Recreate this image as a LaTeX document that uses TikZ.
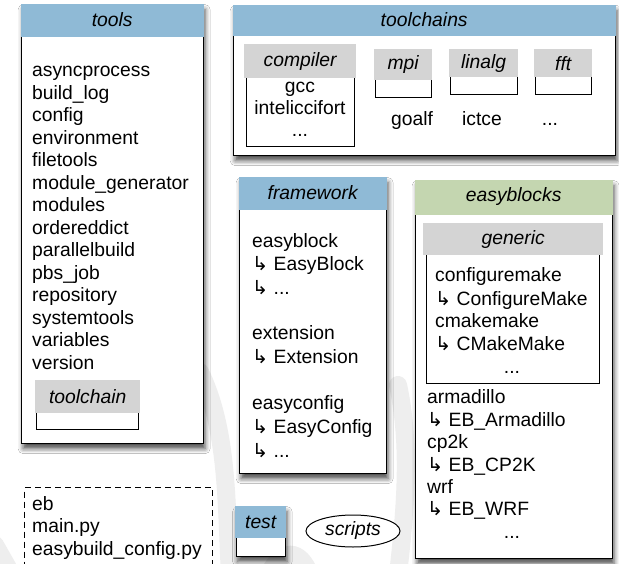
\documentclass[tikz,border=0pt]{standalone}
\usepackage{fontspec}
\setmainfont{Liberation Sans}
\newfontfamily\arrowfont{DejaVu Sans}
\usetikzlibrary{shadows.blur,shapes.geometric}
\definecolor{hblue}{RGB}{143,186,214}
\definecolor{hgreen}{RGB}{196,214,176}
\definecolor{hgray}{RGB}{212,212,212}
\definecolor{wmgray}{RGB}{238,238,238}
\newcommand{\hk}{{\arrowfont ↳}}
\newcommand{\mytxtfont}{\fontsize{19.3}{22.5}\selectfont}
\tikzset{
  outerbox/.style={draw=black, line width=1.3pt, fill=white, inner sep=0pt, anchor=north west},
  shbox/.style={outerbox, blur shadow={shadow xshift=1.5pt, shadow yshift=-5pt, shadow blur radius=5pt, shadow opacity=70}},
  innerbox/.style={draw=black, line width=1pt, fill=white, inner sep=0pt, anchor=north west},
  hdr/.style={inner sep=0pt, anchor=north west, font=\mytxtfont\itshape},
  txt/.style={inner sep=0pt, anchor=base west, font=\mytxtfont},
  ctxt/.style={inner sep=0pt, anchor=base, font=\mytxtfont},
  wm/.style={draw=wmgray, line width=18pt, line cap=round}
}
\begin{document}
\begin{tikzpicture}[x=1pt,y=-1pt]
\useasboundingbox (0,0) rectangle (619,563);
\fill[white] (0,0) rectangle (619,563);
% faint watermark strokes
\draw[wm] (200,372) .. controls (228,430) and (226,500) .. (230,575);
\draw[wm] (398,385) .. controls (412,450) and (404,520) .. (398,575);
\draw[wm] (268,575) .. controls (282,548) and (300,548) .. (310,575);
\draw[wm] (-5,545) -- (12,575);

% tools
\node[shbox, minimum width=182pt, minimum height=439pt] (tools) at (21,4) {};
\node[hdr, fill=hblue, minimum width=183.4pt, minimum height=33pt] (toolsH) at (20.3,3.3) {tools};
\foreach \t [count=\i] in {asyncprocess,build\_log,config,environment,filetools,module\_generator,modules,ordereddict,parallelbuild,pbs\_job,repository,systemtools,variables,version}
  \node[txt] (tl\i) at (32,{76.5+22.5*(\i-1)}) {\t};
\node[innerbox, minimum width=102pt, minimum height=49pt] (tcb) at (36,380) {};
\node[hdr, fill=hgray, minimum width=105pt, minimum height=33pt] (tcbH) at (35,380) {toolchain};

% dashed scripts box
\node[draw=black, line width=1.3pt, dash pattern=on 6pt off 4pt, inner sep=0pt, anchor=north west, minimum width=188pt, minimum height=90pt] (main) at (24,487) {};
\node[txt] (m1) at (32,510) {eb};
\node[txt] (m2) at (32,532) {main.py};
\node[txt] (m3) at (32,555) {easybuild\_config.py};

% toolchains
\node[shbox, minimum width=382pt, minimum height=150pt] (tchains) at (233,5) {};
\node[hdr, fill=hblue, minimum width=383.4pt, minimum height=31pt] (tchainsH) at (232.3,4.3) {toolchains};
\node[innerbox, minimum width=108pt, minimum height=102pt] (comp) at (246,44) {};
\node[hdr, fill=hgray, minimum width=112pt, minimum height=34pt] (compH) at (244,44) {compiler};
\node[ctxt] (c1) at (300,92) {gcc};
\node[ctxt] (c2) at (300,114) {inteliccifort};
\node[ctxt] (c3) at (300,136) {...};
\node[innerbox, minimum width=56pt, minimum height=48pt] (mpi) at (375,49) {};
\node[hdr, fill=hgray, minimum width=58pt, minimum height=31pt] (mpiH) at (374,49) {mpi};
\node[innerbox, minimum width=67pt, minimum height=45pt] (lin) at (450,49) {};
\node[hdr, fill=hgray, minimum width=69pt, minimum height=28pt] (linH) at (449,49) {linalg};
\node[innerbox, minimum width=56pt, minimum height=45pt] (fft) at (535,49) {};
\node[hdr, fill=hgray, minimum width=58pt, minimum height=28pt] (fftH) at (534,49) {fft};
\node[ctxt] (g1) at (412,125) {goalf};
\node[ctxt] (g2) at (482,125) {ictce};
\node[ctxt] (g3) at (550,125) {...};

% framework
\node[shbox, minimum width=147pt, minimum height=296pt] (fw) at (239,177) {};
\node[hdr, fill=hblue, minimum width=148.4pt, minimum height=33pt] (fwH) at (238.3,176.3) {framework};
\node[txt] (f1) at (252,247) {easyblock};
\node[txt] (f2) at (252,270.5) {\hk\ EasyBlock};
\node[txt] (f3) at (252,294) {\hk\ ...};
\node[txt] (f4) at (252,339) {extension};
\node[txt] (f5) at (252,363) {\hk\ Extension};
\node[txt] (f6) at (252,409) {easyconfig};
\node[txt] (f7) at (252,433) {\hk\ EasyConfig};
\node[txt] (f8) at (252,457) {\hk\ ...};

% easyblocks
\node[shbox, minimum width=197pt, minimum height=378pt] (eb) at (415,180) {};
\node[hdr, fill=hgreen, minimum width=198.4pt, minimum height=35pt] (ebH) at (414.3,179.3) {easyblocks};
\node[innerbox, minimum width=173pt, minimum height=160pt] (gen) at (426,223) {};
\node[hdr, fill=hgray, minimum width=180pt, minimum height=32pt] (genH) at (423,223) {generic};
\node[txt] (e1) at (435,281.5) {configuremake};
\node[txt] (e2) at (435,305) {\hk\ ConfigureMake};
\node[txt] (e3) at (435,327) {cmakemake};
\node[txt] (e4) at (435,350) {\hk\ CMakeMake};
\node[ctxt] (e5) at (512,373) {...};
\node[txt] (e6) at (427,403) {armadillo};
\node[txt] (e7) at (427,426.5) {\hk\ EB\_Armadillo};
\node[txt] (e8) at (427,448.5) {cp2k};
\node[txt] (e9) at (427,471.5) {\hk\ EB\_CP2K};
\node[txt] (e10) at (427,493) {wrf};
\node[txt] (e11) at (427,515.5) {\hk\ EB\_WRF};
\node[ctxt] (e12) at (512,538) {...};

% test
\node[shbox, minimum width=49.5pt, minimum height=50pt] (test) at (235.5,506) {};
\node[hdr, fill=hblue, minimum width=51pt, minimum height=32pt] (testH) at (235,506) {test};

% scripts
\node[ellipse, draw=black, line width=1pt, fill=white, inner sep=0pt, minimum width=94pt, minimum height=32pt, font=\mytxtfont\itshape] (scripts) at (353,531) {scripts};
\end{tikzpicture}
\end{document}
